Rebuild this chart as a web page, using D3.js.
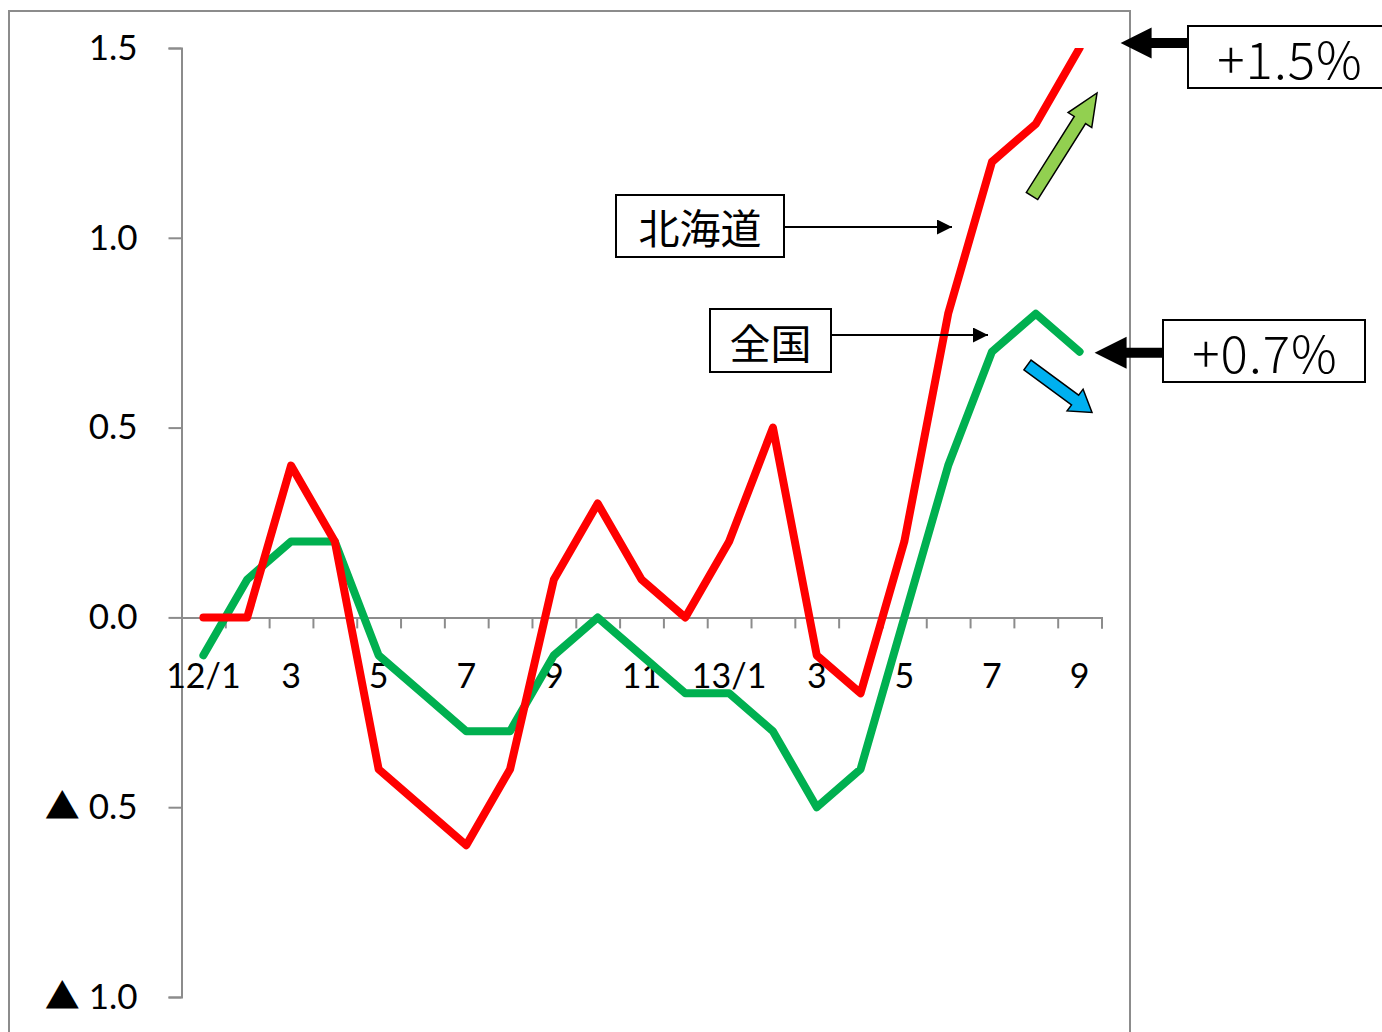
<!DOCTYPE html>
<html>
<head>
<meta charset="utf-8">
<script src="https://cdn.jsdelivr.net/npm/d3@7"></script>
<style>
  html, body { margin: 0; padding: 0; background: #fff; }
  svg { display: block; }
</style>
</head>
<body>
<svg id="chart" width="1382" height="1032"></svg>
<script>
// ---- data ----
const months = ["12/1","12/2","12/3","12/4","12/5","12/6","12/7","12/8","12/9","12/10","12/11","12/12",
                "13/1","13/2","13/3","13/4","13/5","13/6","13/7","13/8","13/9"];
const tickLabels = ["12/1","","3","","5","","7","","9","","11","","13/1","","3","","5","","7","","9"];
const hokkaido = [0.0, 0.0, 0.4, 0.2, -0.4, -0.5, -0.6, -0.4, 0.1, 0.3, 0.1, 0.0,
                  0.2, 0.5, -0.1, -0.2, 0.2, 0.8, 1.2, 1.3, 1.5];
const zenkoku  = [-0.1, 0.1, 0.2, 0.2, -0.1, -0.2, -0.3, -0.3, -0.1, 0.0, -0.1, -0.2,
                  -0.2, -0.3, -0.5, -0.4, 0.0, 0.4, 0.7, 0.8, 0.7];
const yTicks = [-1.0, -0.5, 0.0, 0.5, 1.0, 1.5];
const seriesNames = ["北海道", "全国"];
const endLabels = ["+1.5%", "+0.7%"];

// ---- layout ----
const svg = d3.select("#chart");
const plot = { left: 181.5, right: 1101.5, top: 48, bottom: 997 };
const axisColor = "#8c8c8c";

const x = d3.scaleBand().domain(months).range([plot.left, plot.right]).paddingInner(0).paddingOuter(0);
const xEdge = d3.scaleLinear().domain([0, months.length]).range([plot.left, plot.right]);
const y = d3.scaleLinear().domain([-1, 1.5]).range([plot.bottom, plot.top]);
const cx = m => x(m) + x.bandwidth() / 2;

// outer frame
svg.append("rect")
  .attr("x", 9).attr("y", 11).attr("width", 1121).attr("height", 1100)
  .attr("fill", "none").attr("stroke", axisColor).attr("stroke-width", 2);

// y axis
const yAxis = svg.append("g")
  .attr("transform", `translate(${plot.left},0)`)
  .call(d3.axisLeft(y).tickValues(yTicks).tickSize(13).tickPadding(31)
    .tickFormat(d => d < 0 ? "▲ " + Math.abs(d).toFixed(1) : d.toFixed(1)));
yAxis.select(".domain").attr("stroke", axisColor).attr("stroke-width", 2);
yAxis.selectAll(".tick line").attr("stroke", axisColor).attr("stroke-width", 2);
yAxis.selectAll(".tick text")
  .attr("font-family", "Lato, 'Noto Sans CJK JP', sans-serif")
  .attr("font-size", 35).attr("fill", "#000");

// x axis (ticks at category boundaries)
const xAxis = svg.append("g")
  .attr("transform", `translate(0,${y(0)})`)
  .call(d3.axisBottom(xEdge).tickValues(d3.range(months.length + 1)).tickSize(11).tickFormat(""));
xAxis.select(".domain").attr("stroke", axisColor).attr("stroke-width", 2);
xAxis.selectAll(".tick line").attr("stroke", axisColor).attr("stroke-width", 2);

// x labels
const xLab = svg.append("g")
  .attr("transform", `translate(0,${y(0)})`)
  .call(d3.axisBottom(x).tickSize(0).tickPadding(46).tickFormat((d, i) => tickLabels[i]));
xLab.select(".domain").remove();
xLab.selectAll(".tick text")
  .attr("font-family", "Lato, sans-serif")
  .attr("font-size", 34).attr("fill", "#000");

// clip
svg.append("clipPath").attr("id", "plotclip")
  .append("rect").attr("x", 0).attr("y", plot.top).attr("width", 1382).attr("height", plot.bottom - plot.top);

const line = d3.line().x((d, i) => cx(months[i])).y(d => y(d));
const lines = svg.append("g").attr("clip-path", "url(#plotclip)");
lines.append("path").datum(zenkoku)
  .attr("d", line).attr("fill", "none").attr("stroke", "#00B050")
  .attr("stroke-width", 8).attr("stroke-linejoin", "round").attr("stroke-linecap", "round");
lines.append("path").datum(hokkaido)
  .attr("d", line).attr("fill", "none").attr("stroke", "#FF0000")
  .attr("stroke-width", 8).attr("stroke-linejoin", "round").attr("stroke-linecap", "round");

// ---- annotations ----
const defs = svg.append("defs");
defs.append("marker").attr("id", "ah").attr("viewBox", "0 0 10 10")
  .attr("refX", 10).attr("refY", 5).attr("markerWidth", 8).attr("markerHeight", 7.5)
  .attr("markerUnits", "strokeWidth").attr("orient", "auto")
  .append("path").attr("d", "M0,0 L10,5 L0,10 Z").attr("fill", "#000");

function labelBox(x0, y0, w, h, text, fontSize, family, weight, tx, spacing) {
  svg.append("rect").attr("x", x0).attr("y", y0).attr("width", w).attr("height", h)
    .attr("fill", "#fff").attr("stroke", "#000").attr("stroke-width", 2);
  svg.append("text").attr("x", tx != null ? tx : x0 + w / 2).attr("y", y0 + h / 2)
    .attr("text-anchor", "middle").attr("dominant-baseline", "central")
    .attr("font-family", family).attr("font-weight", weight || 400)
    .attr("letter-spacing", spacing || 0)
    .attr("font-size", fontSize).attr("fill", "#000").text(text);
}

function blockArrow(tail, tip, shaftHalf, headHalf, headLen, fill, stroke) {
  const dx = tip[0] - tail[0], dy = tip[1] - tail[1];
  const L = Math.hypot(dx, dy);
  const ux = dx / L, uy = dy / L, nx = -uy, ny = ux;
  const b = [tip[0] - ux * headLen, tip[1] - uy * headLen];
  const pts = [
    [tail[0] + nx * shaftHalf, tail[1] + ny * shaftHalf],
    [b[0] + nx * shaftHalf, b[1] + ny * shaftHalf],
    [b[0] + nx * headHalf, b[1] + ny * headHalf],
    tip,
    [b[0] - nx * headHalf, b[1] - ny * headHalf],
    [b[0] - nx * shaftHalf, b[1] - ny * shaftHalf],
    [tail[0] - nx * shaftHalf, tail[1] - ny * shaftHalf]
  ];
  svg.append("path").attr("d", "M" + pts.map(p => p.join(",")).join("L") + "Z")
    .attr("fill", fill).attr("stroke", stroke || "none").attr("stroke-width", stroke ? 1.5 : 0)
    .attr("stroke-linejoin", "miter");
}

const jp = "'Noto Sans CJK JP', sans-serif";
const last = months.length - 1;
const xLast = cx(months[last]);

// series name boxes with thin arrows
labelBox(616, 195, 168, 62, seriesNames[0], 41, jp);
svg.append("line").attr("x1", 785).attr("y1", 227).attr("x2", 952).attr("y2", 227)
  .attr("stroke", "#000").attr("stroke-width", 2).attr("marker-end", "url(#ah)");
labelBox(710, 309, 121, 63, seriesNames[1], 41, jp);
svg.append("line").attr("x1", 832).attr("y1", 335).attr("x2", 988).attr("y2", 335)
  .attr("stroke", "#000").attr("stroke-width", 2).attr("marker-end", "url(#ah)");

// trend block arrows
blockArrow([1032, 196], [1097, 93], 6.7, 14, 32, "#92D050", "#000");
blockArrow([1027.5, 365], [1092, 412.5], 6, 13.5, 21, "#00B0F0", "#000");

// end value boxes with black arrows
blockArrow([1190, y(hokkaido[last]) - 5], [xLast + 41, y(hokkaido[last]) - 5], 5, 15.5, 31, "#000");
labelBox(1188, 26, 210, 62, endLabels[0], 51, jp, 300, 1290, 1);
blockArrow([1165, y(zenkoku[last]) + 1], [xLast + 15, y(zenkoku[last]) + 1], 5, 16, 32, "#000");
labelBox(1163, 320, 202, 62, endLabels[1], 51, jp, 300, 1265, 1);
</script>
</body>
</html>
